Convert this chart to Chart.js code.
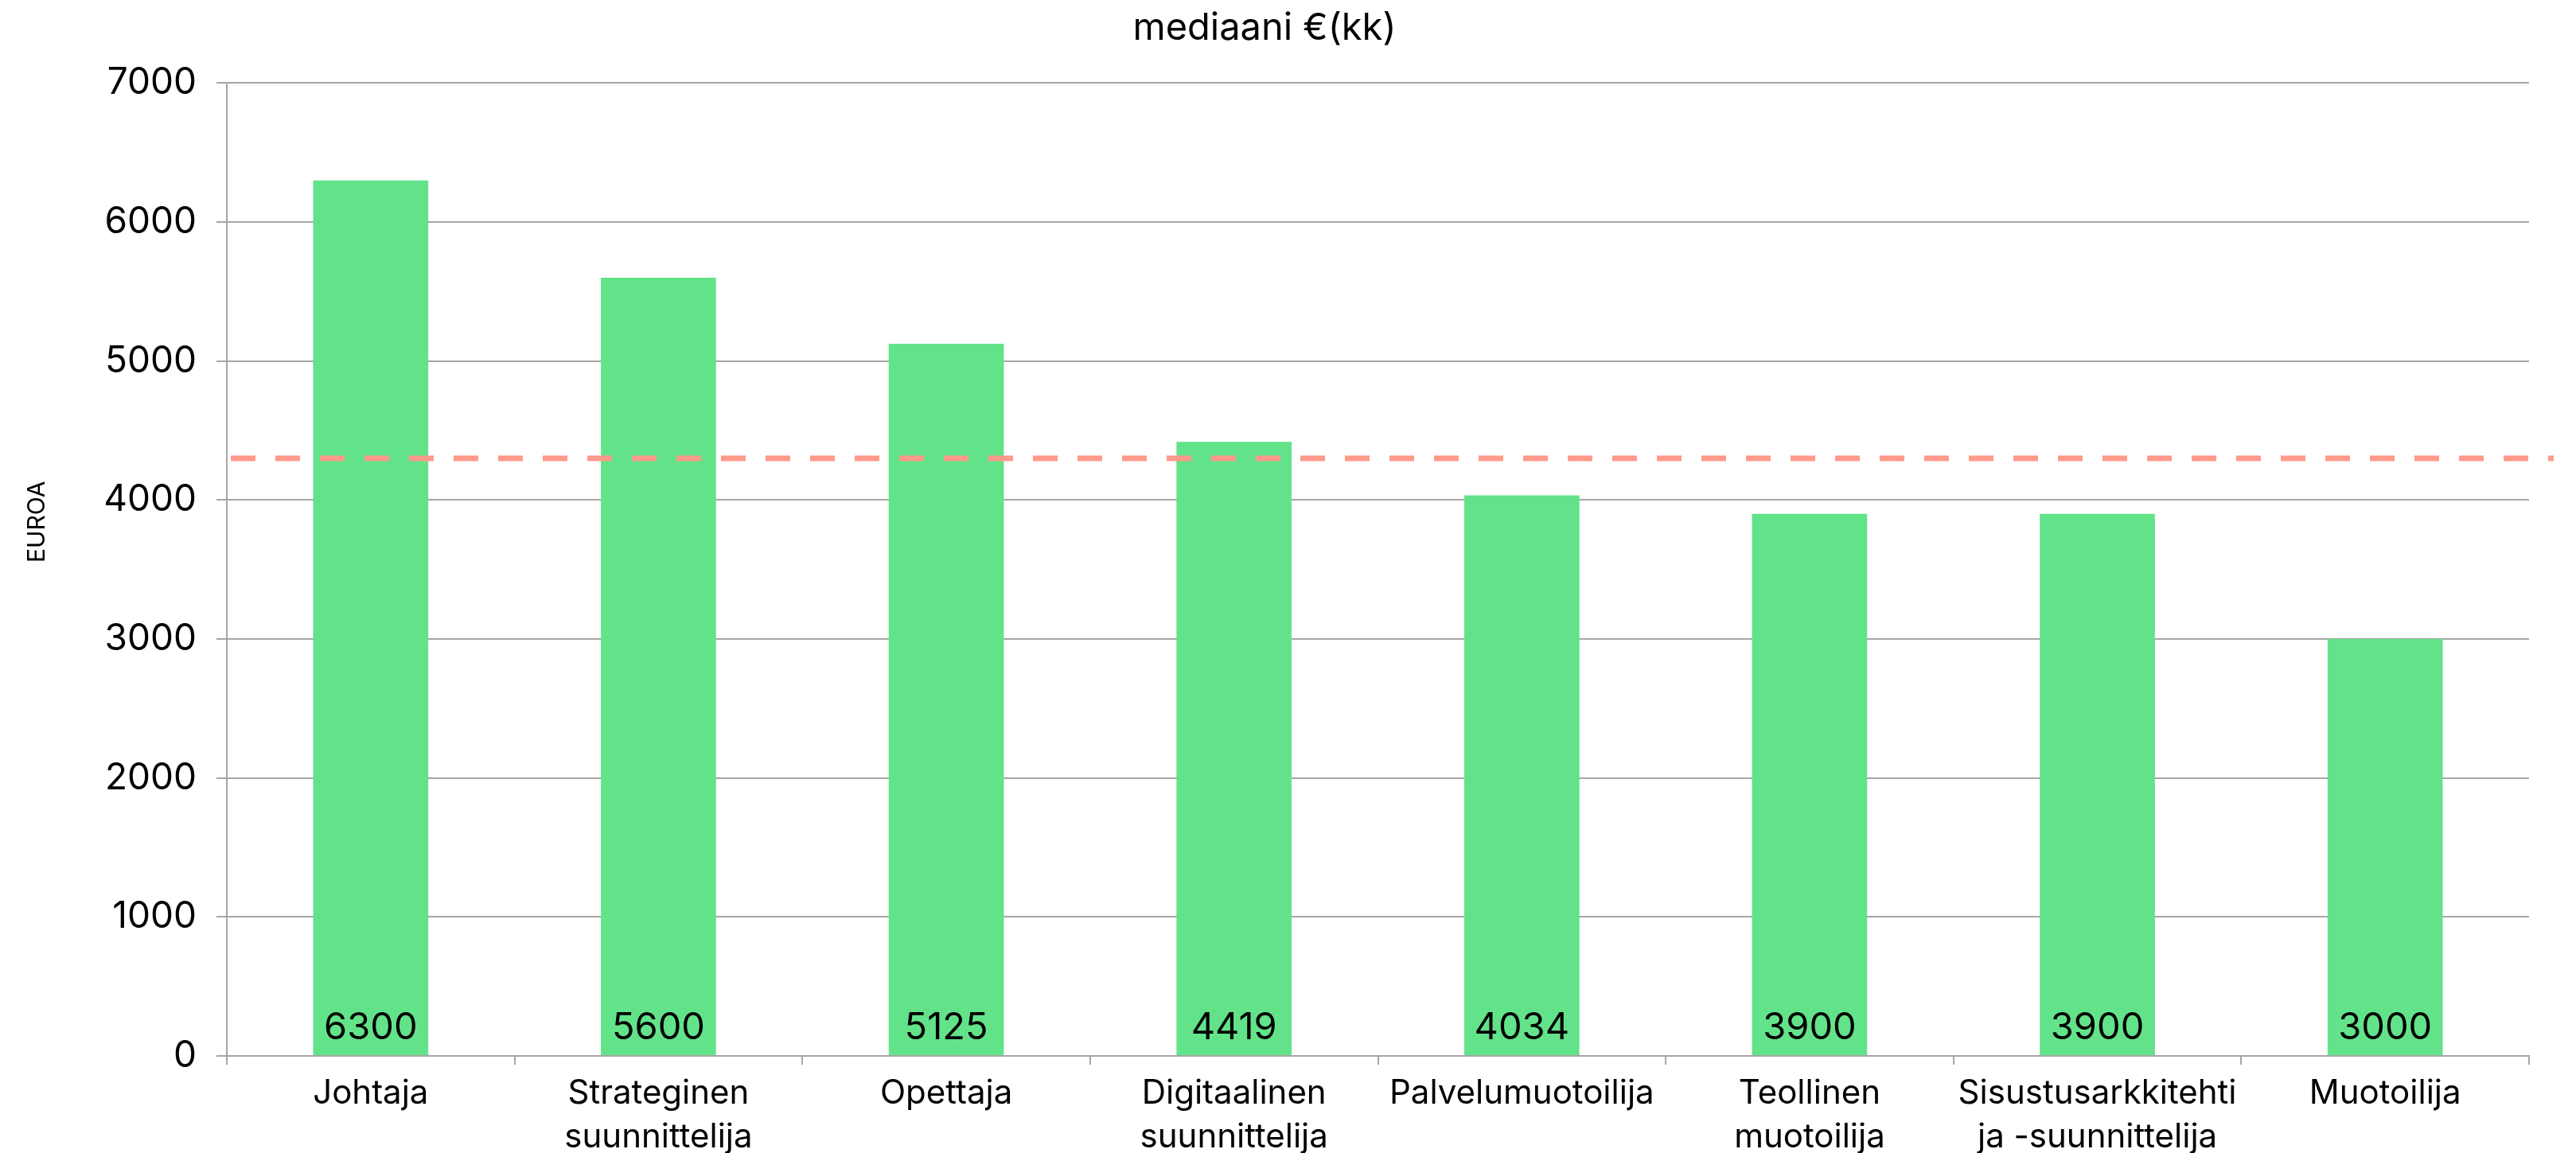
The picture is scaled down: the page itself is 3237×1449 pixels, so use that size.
<!DOCTYPE html>
<html>
<head>
<meta charset="utf-8">
<script src="https://cdn.jsdelivr.net/npm/chart.js@4.4.1/dist/chart.umd.min.js"></script>
<style>
  html, body { margin: 0; padding: 0; background: #fff; }
  canvas { display: block; }
</style>
</head>
<body>
<canvas id="myChart" width="3237" height="1449"></canvas>
<script>
'use strict';

// data
const categories = [
  ['Johtaja'],
  ['Strateginen', 'suunnittelija'],
  ['Opettaja'],
  ['Digitaalinen', 'suunnittelija'],
  ['Palvelumuotoilija'],
  ['Teollinen', 'muotoilija'],
  ['Sisustusarkkitehti', 'ja -suunnittelija'],
  ['Muotoilija']
];
const medianValues = [6300, 5600, 5125, 4419, 4034, 3900, 3900, 3000];
const overallMedian = 4300;
const yTickValues = [0, 1000, 2000, 3000, 4000, 5000, 6000, 7000];

const FONT = 'Inter, "Noto Sans", Arial, sans-serif';
const GRID = '#a6a6a6';

// dashed reference line, drawn over the bars
const refLine = {
  id: 'refLine',
  afterDatasetsDraw(chart) {
    const {ctx, chartArea, scales} = chart;
    const y = scales.y.getPixelForValue(overallMedian);
    ctx.save();
    ctx.strokeStyle = '#ff998a';
    ctx.lineWidth = 7;
    ctx.setLineDash([31, 25]);
    ctx.beginPath();
    ctx.moveTo(chartArea.left + 5, y);
    ctx.lineTo(chartArea.right + 31, y);
    ctx.stroke();
    ctx.restore();
  }
};

// value labels at the foot of each bar
const valueLabels = {
  id: 'valueLabels',
  afterDatasetsDraw(chart) {
    const {ctx, scales} = chart;
    const meta = chart.getDatasetMeta(0);
    const base = scales.y.getPixelForValue(0);
    ctx.save();
    ctx.font = '47px ' + FONT;
    ctx.fillStyle = '#000';
    ctx.textAlign = 'center';
    ctx.textBaseline = 'alphabetic';
    meta.data.forEach(function(bar, i) {
      ctx.fillText(String(medianValues[i]), bar.x, base - 21);
    });
    ctx.restore();
  }
};

// rotated y axis title
const yTitle = {
  id: 'yTitle',
  afterDraw(chart) {
    const {ctx, chartArea} = chart;
    ctx.save();
    ctx.translate(47, chartArea.top + (chartArea.bottom - chartArea.top) * 0.451);
    ctx.rotate(-Math.PI / 2);
    ctx.font = '30px ' + FONT;
    ctx.fillStyle = '#000';
    ctx.textAlign = 'center';
    ctx.textBaseline = 'middle';
    ctx.fillText('EUROA', 0, 0);
    ctx.restore();
  }
};

const ctx = document.getElementById('myChart').getContext('2d');
new Chart(ctx, {
  type: 'bar',
  data: {
    labels: categories,
    datasets: [{
      label: 'mediaani',
      data: medianValues,
      backgroundColor: '#63e389',
      borderWidth: 0,
      barPercentage: 0.4,
      categoryPercentage: 1.0
    }]
  },
  options: {
    responsive: false,
    animation: false,
    devicePixelRatio: 1,
    layout: {padding: {left: 0, right: 59, top: 0, bottom: 0}},
    plugins: {
      legend: {display: false},
      tooltip: {enabled: false},
      title: {
        display: true,
        text: 'mediaani €(kk)',
        color: '#000',
        font: {family: FONT, size: 47, weight: 'normal'},
        padding: {top: 8, bottom: 40}
      }
    },
    scales: {
      x: {
        offset: true,
        grid: {
          display: true,
          offset: true,
          drawOnChartArea: false,
          drawTicks: true,
          tickLength: 11,
          color: GRID,
          lineWidth: 2
        },
        border: {display: true, color: GRID, width: 2},
        ticks: {
          color: '#000',
          font: {family: FONT, size: 42, lineHeight: 1.33},
          padding: 8,
          maxRotation: 0,
          autoSkip: false
        },
        afterFit(scale) {
          scale.height = 122;
        }
      },
      y: {
        min: 0,
        max: 7000,
        afterBuildTicks(scale) {
          scale.ticks = yTickValues.map(function(v) { return {value: v}; });
        },
        grid: {
          color: GRID,
          lineWidth: 2,
          drawTicks: true,
          tickLength: 13
        },
        border: {display: true, color: GRID, width: 2},
        ticks: {
          color: '#000',
          font: {family: FONT, size: 46},
          padding: 25,
          callback: function(value) { return String(value); }
        },
        afterFit(scale) {
          scale.width = 285;
        }
      }
    }
  },
  plugins: [refLine, valueLabels, yTitle]
});
</script>
</body>
</html>
